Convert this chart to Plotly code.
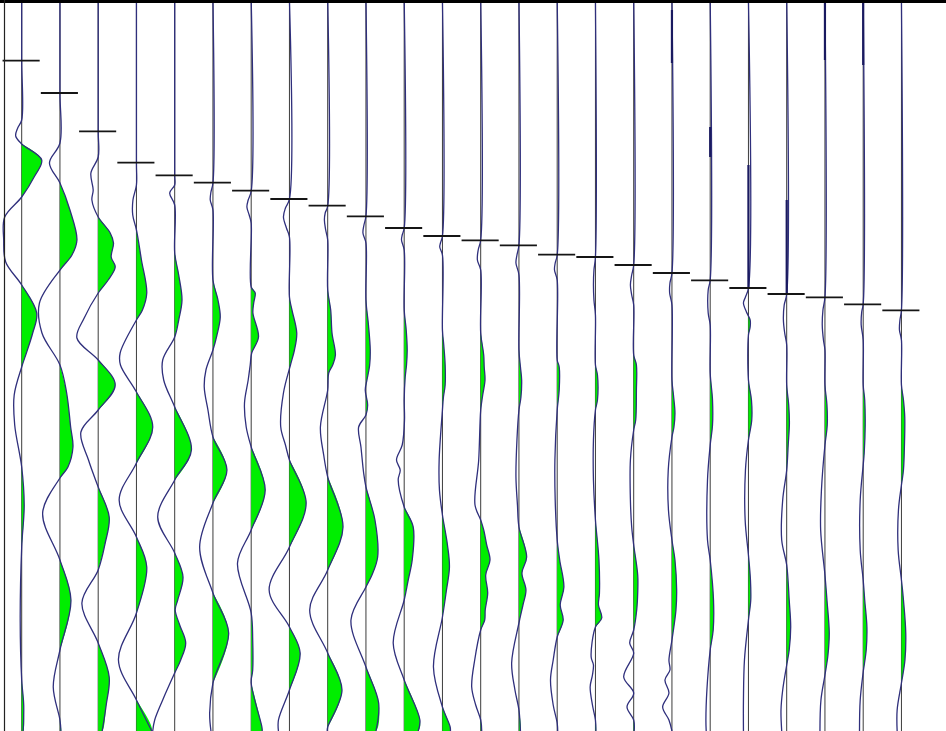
import plotly.graph_objects as go

# ---------------- data: seismic shot record (24 traces) ----------------
# time in ms (down), amplitude in arbitrary units (positive = right, filled)
PICKS = [60.7, 93, 131.3, 162.7, 175.3, 182.7, 190.7, 199, 205.7, 216.3, 228, 236,
         240.3, 245.3, 254.7, 257, 265, 273, 280.3, 288, 294, 297.3, 304.3, 310.3]

tr01_t = [0, 61, 120, 128, 136, 144, 160, 176, 197, 217, 240, 262, 285, 313, 333, 352, 367, 395, 425, 467, 505, 547, 620, 680, 705, 731]
tr01_a = [0, 0, 0, -4, -6, 0, 20, 13, 0, -17, -18, -16, 0, 15, 11, 5, 0, -7.5, -7, 0, 2.5, 0, -1.5, 0, 2, 1.5]
tr02_t = [0, 93, 143, 163, 183, 210, 240, 255, 270, 303, 333, 365, 393, 427, 447, 467, 478, 513, 560, 600, 650, 687, 720, 731]
tr02_a = [0, 0, 0, -10.5, 0, 10, 17, 12, 0, -20.5, -18, 0, 6.7, 10.7, 13, 8, 0, -17.3, 0, 11, 0, -6.7, 0, 1]
tr03_t = [0, 131, 157, 173, 190, 200, 217, 233, 243, 257, 267, 280, 293, 318, 338, 360, 385, 410, 432, 460, 487, 517, 543, 570, 603, 643, 677, 705, 731]
tr03_a = [0, 0, 0, -7.3, -5, -6.3, 0, 12, 15.3, 13, 17, 10, 0, -14, -21.3, 0, 17, 0, -17.3, -9.7, 0, 11, 7, 0, -16.3, 0, 11, 8, 4]
tr04_t = [0, 163, 185, 200, 215, 230, 260, 293, 310, 320, 353, 365, 392, 427, 463, 500, 537, 567, 613, 660, 700, 731]
tr04_a = [0, 0, 0, -3.5, -3.7, 0, 5, 10.3, 6, 0, -16.3, -16, 0, 16.3, 0, -17.3, 0, 10.3, 0, -18, 0, 15.3]
tr05_t = [0, 175, 185, 193, 205, 253, 275, 300, 320, 337, 360, 380, 407, 450, 480, 517, 553, 577, 600, 610, 625, 643, 660, 673, 700, 720, 731]
tr05_a = [0, 0, 0, -5, 0, 0, 4, 7.3, 4, 0, -12, -11, 0, 16.7, 0, -17, 0, 8.3, 3, 0.5, 5, 11, 6, 0, -12, -20, -22]
tr06_t = [0, 183, 192, 200, 210, 280, 300, 317, 335, 350, 370, 387, 410, 437, 470, 503, 547, 593, 633, 683, 713, 731]
tr06_a = [0, 0, -2, -2.7, 0, 0, 5, 7.3, 4, 0, -7, -8.7, -5, 0, 14, 0, -13.3, 0, 15.7, 0, -3.3, -2]
tr07_t = [0, 191, 200, 207, 215, 223, 287, 293, 303, 313, 337, 353, 365, 380, 403, 427, 447, 490, 530, 563, 613, 640, 670, 683, 727, 731]
tr07_a = [0, 0, -3, -4.3, -2, 0, 0, 4, 2.5, 1.7, 7.3, 0.5, -1, -3, -6.7, -5, 0, 14, 0, -13.7, 0, 1.5, 1.5, 0, 10.7, 11]
tr08_t = [0, 199, 208, 217, 228, 237, 297, 310, 333, 350, 365, 393, 427, 445, 460, 503, 547, 590, 627, 653, 690, 720, 731]
tr08_a = [0, 0, -4, -6, -3, 0, 0, 2.5, 7.3, 5, 1, -6, -8.7, -4, 0, 16.7, 0, -20.3, 0, 10.7, 0, -11, -11]
tr09_t = [0, 206, 213, 220, 230, 240, 290, 310, 333, 355, 365, 373, 390, 427, 455, 477, 527, 570, 610, 653, 690, 727, 731]
tr09_a = [0, 0, -2.5, -3.3, -2, 0, 0, 3, 4.3, 7.7, 5, 1, 0, -7.3, -4, 0, 15.3, 0, -18, 0, 14.3, 0, -0.5]
tr10_t = [0, 216, 225, 233, 243, 300, 325, 350, 365, 380, 390, 405, 415, 427, 447, 473, 487, 520, 557, 575, 587, 620, 667, 703, 731]
tr10_a = [0, 0, -2, -3, 0, 0, 2.5, 4.3, 3.7, 1, -0.7, 1.7, 0, -7.3, -5, -2.3, 0, 9, 11.7, 6, 0, -15, 0, 12.7, 10]
tr11_t = [0, 228, 235, 240, 250, 310, 330, 350, 365, 377, 400, 420, 445, 460, 470, 480, 507, 527, 560, 580, 600, 643, 680, 720, 731]
tr11_a = [0, 0, -2, -2.7, 0, 0, 2, 3, 2.3, 1, 0, 0.3, -2, -7.7, -4, -6, 0, 9, 8, 4, 0, -11, 0, 15.7, 14]
tr12_t = [0, 236, 243, 247, 255, 330, 345, 365, 385, 397, 410, 460, 490, 515, 545, 567, 590, 617, 667, 707, 727, 731]
tr12_a = [0, 0, -2, -2.7, 0, 0, 1.3, 2.7, 2.7, 1, 0, -3.3, -3, 0, 5, 7, 4, 0, -9, 0, 7.7, 8]
tr13_t = [0, 240, 250, 260, 270, 333, 355, 367, 380, 395, 410, 460, 505, 520, 530, 545, 560, 575, 593, 610, 620, 630, 660, 687, 705, 720, 731]
tr13_a = [0, 0, -2.5, -3.3, 0, 0, 3, 3.5, 4.3, 2, 0, -2, -5.7, 0, 3, 6, 9.3, 5, 7, 4.5, 4, 0, -6, -9, -5, 0, 1]
tr14_t = [0, 245, 255, 263, 275, 350, 367, 380, 397, 410, 440, 477, 505, 527, 557, 573, 590, 605, 623, 663, 690, 710, 731]
tr14_a = [0, 0, -2, -3, 0, 0, 1.5, 2.7, 2, 0, -2, -3, -1.5, 0, 7.7, 3, 7, 4, 0, -7.3, -4, 0, 1.5]
tr15_t = [0, 255, 263, 270, 280, 360, 367, 390, 410, 460, 500, 540, 560, 587, 605, 620, 637, 660, 680, 705, 723, 731]
tr15_a = [0, 0, -2, -2.7, 0, 0, 2, 2, 0, -2.3, -2, 0, 2.5, 6.7, 3, 6, 0, -4, -6.7, -4, 0, 0.5]
tr16_t = [0, 257, 270, 285, 300, 315, 365, 375, 400, 410, 440, 480, 520, 560, 593, 605, 618, 627, 657, 665, 675, 687, 705, 720, 731]
tr16_a = [0, 0, -1.5, -2, -1.5, 0, 0, 2, 2, 0, -2, -2, 0, 3.5, 4, 3, 6.3, 0, -4.3, -2, -3, -5.3, -3, 0, 0.5]
tr17_t = [0, 265, 275, 285, 295, 305, 355, 365, 390, 420, 430, 460, 500, 527, 545, 575, 593, 610, 630, 643, 653, 677, 693, 707, 720, 731]
tr17_a = [0, 0, -2, -3.3, -2, 0, 0, 2.7, 2.7, 2, 0, -3.3, -3.3, -2, 0, 4, 4, 3, 0, -4, 0, -10, 0, -6.7, 0, 0.5]
tr18_t = [0, 273, 283, 293, 305, 380, 395, 413, 427, 437, 470, 510, 540, 560, 590, 610, 640, 660, 670, 680, 693, 707, 720, 731]
tr18_a = [0, 0, -2, -2.3, 0, 0, 1.5, 3, 2, 0, -3.7, -3.5, 0, 3, 4.7, 4, 0, -3, -2, -7, -3, -9.3, -3, 0]
tr19_t = [0, 280, 290, 313, 325, 373, 400, 425, 445, 480, 540, 560, 600, 630, 650, 690, 720, 731]
tr19_a = [0, 0, -2, -2, 0, 0, 2.3, 2.3, 0, -2.7, -2.7, 0, 3.3, 3, 0, -3.3, -4.3, -4]
tr20_t = [0, 288, 297, 303, 312, 320, 327, 335, 380, 400, 420, 440, 470, 520, 555, 580, 600, 620, 660, 700, 731]
tr20_a = [0, 0, -3, -5, -2, 1.7, 1.7, 0, 0, 3, 3.3, 0, -3, -3.3, 0, 2, 2.3, 0, -4, -5, -5]
tr21_t = [0, 294, 305, 320, 333, 345, 385, 405, 423, 445, 470, 500, 540, 565, 600, 627, 650, 665, 690, 710, 731]
tr21_a = [0, 0, -2.5, -3.3, -2, 0, 0, 2, 2.7, 1.5, 0, -4, -5, 0, 2.5, 4, 2.5, 0, -4, -5.7, -5]
tr22_t = [0, 297, 310, 325, 340, 350, 385, 405, 425, 445, 490, 530, 575, 600, 633, 655, 675, 700, 731]
tr22_a = [0, 0, -2, -2.7, -1.5, 0, 0, 2, 2.3, 0, -3.5, -4.3, 0, 2, 4.3, 3, 0, -4, -5]
tr23_t = [0, 304, 312, 325, 340, 385, 400, 425, 453, 465, 500, 550, 580, 600, 627, 650, 672, 700, 731]
tr23_a = [0, 0, -1.5, -2, 0, 0, 1.5, 2, 1, 0, -3, -3, 0, 1.5, 3.7, 3, 0, -3, -3.7]
tr24_t = [0, 310, 320, 330, 340, 385, 400, 417, 445, 470, 485, 510, 550, 580, 600, 633, 660, 683, 710, 731]
tr24_a = [0, 0, -1.5, -2, 0, 0, 2, 3.3, 3, 2, 0, -3, -3.3, 0, 2, 4.3, 3.5, 0, -4.3, -4.3]

# noisy (bold-looking) stretches on the zero line: trace number, start ms, end ms
BOLD_TRACE = [18, 19, 20, 21, 22, 23]
BOLD_START = [10, 127, 165, 200, 0, 0]
BOLD_END = [63, 157, 287, 293, 60, 65]

TIMES = [tr01_t, tr02_t, tr03_t, tr04_t, tr05_t, tr06_t, tr07_t, tr08_t, tr09_t, tr10_t, tr11_t, tr12_t,
         tr13_t, tr14_t, tr15_t, tr16_t, tr17_t, tr18_t, tr19_t, tr20_t, tr21_t, tr22_t, tr23_t, tr24_t]
AMPS = [tr01_a, tr02_a, tr03_a, tr04_a, tr05_a, tr06_a, tr07_a, tr08_a, tr09_a, tr10_a, tr11_a, tr12_a,
        tr13_a, tr14_a, tr15_a, tr16_a, tr17_a, tr18_a, tr19_a, tr20_a, tr21_a, tr22_a, tr23_a, tr24_a]

T_MAX = 731

# ---------------- styling / layout ----------------
W, H = 946, 731
SPACING_PX = 38.25          # pixels between traces
FIRST_PX = 21.7             # pixel position of trace 1
GAIN = 1.0 / SPACING_PX     # amplitude unit -> trace spacing
X0 = 1 - FIRST_PX / SPACING_PX
X1 = X0 + W / SPACING_PX

WIGGLE = '#2f2f7c'
FILL = '#00ee00'
BASE = '#3c3c3c'
PICK = '#151515'

n = len(TIMES)

# baselines
bx, by = [], []
for k in range(n):
    bx += [k + 1, k + 1, None]
    by += [0, T_MAX, None]

# positive-lobe fill polygons
fx, fy = [], []
for k in range(n):
    t, a = TIMES[k], AMPS[k]
    pts = []
    for i in range(len(t)):
        pts.append((t[i], a[i]))
        if i + 1 < len(t) and a[i] * a[i + 1] < 0:
            tc = t[i] + (t[i + 1] - t[i]) * a[i] / (a[i] - a[i + 1])
            pts.append((tc, 0.0))
    run = []
    for i, (tt, aa) in enumerate(pts):
        if aa > 0:
            if not run and i > 0:
                run.append(pts[i - 1])
            run.append((tt, aa))
        else:
            if run:
                run.append((tt, 0.0))
                fx += [k + 1 + GAIN * max(v, 0) for _, v in run] + [None]
                fy += [u for u, _ in run] + [None]
                run = []
    if run:
        run.append((run[-1][0], 0.0))
        fx += [k + 1 + GAIN * max(v, 0) for _, v in run] + [None]
        fy += [u for u, _ in run] + [None]

# wiggle lines
wx, wy = [], []
for k in range(n):
    wx += [k + 1 + GAIN * v for v in AMPS[k]] + [None]
    wy += list(TIMES[k]) + [None]

# bold noisy stretches
sx, sy = [], []
for tr, s, e in zip(BOLD_TRACE, BOLD_START, BOLD_END):
    sx += [tr, tr, None]
    sy += [s, e, None]

# first-break picks
px, py = [], []
for k in range(n):
    px += [k + 1 - 0.5, k + 1 + 0.47, None]
    py += [PICKS[k], PICKS[k], None]

fig = go.Figure()
fig.add_trace(go.Scatter(x=bx, y=by, mode='lines', line=dict(color=BASE, width=1), hoverinfo='skip'))
fig.add_trace(go.Scatter(x=fx, y=fy, mode='lines', fill='toself', fillcolor=FILL,
                         line=dict(width=0, shape='spline', color=FILL), hoverinfo='skip'))
fig.add_trace(go.Scatter(x=wx, y=wy, mode='lines', line=dict(color=WIGGLE, width=1.3, shape='spline'),
                         hoverinfo='skip'))
fig.add_trace(go.Scatter(x=sx, y=sy, mode='lines', line=dict(color='#1a1a60', width=2.2), hoverinfo='skip'))
fig.add_trace(go.Scatter(x=px, y=py, mode='lines', line=dict(color=PICK, width=1.8), hoverinfo='skip'))

fig.update_layout(
    width=W, height=H, showlegend=False,
    margin=dict(l=0, r=0, t=0, b=0),
    paper_bgcolor='white', plot_bgcolor='white',
    xaxis=dict(range=[X0, X1], visible=False, fixedrange=True),
    yaxis=dict(range=[T_MAX, 0], visible=False, fixedrange=True),
    shapes=[
        dict(type='line', xref='paper', yref='paper', x0=0, x1=1, y0=1, y1=1,
             line=dict(color='black', width=6)),
        dict(type='line', xref='paper', yref='paper', x0=4.5 / W, x1=4.5 / W, y0=0, y1=1,
             line=dict(color='#222222', width=1.2)),
    ],
)

fig.write_html("out.html", config={'displayModeBar': False},
               post_script="document.body.style.margin='0px';document.body.style.overflow='hidden';")
